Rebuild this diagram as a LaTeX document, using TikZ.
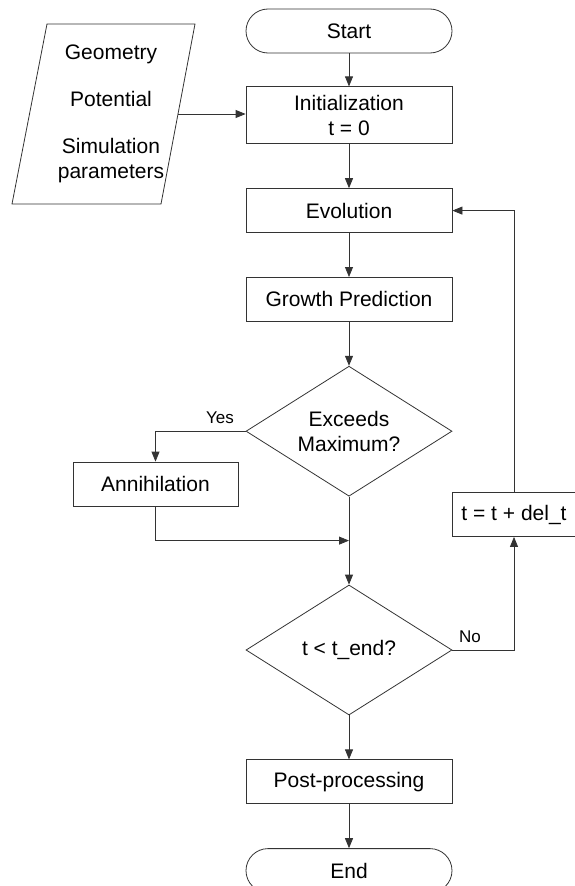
\documentclass[tikz,border=0pt]{standalone}
\usepackage{fontspec}
\setmainfont{Liberation Sans}
\usetikzlibrary{arrows.meta,calc,positioning,shapes.geometric}
\tikzstyle{block} = [rectangle, draw=black!80, minimum width=206pt,
    minimum height=44pt, text centered, inner sep=2pt]
\tikzstyle{terminal} = [block, rounded corners=22pt]
\tikzstyle{decision} = [diamond, draw=black!80, minimum width=206pt,
    minimum height=130pt, aspect=1.6, inner sep=0pt, align=center]
\tikzstyle{io} = [rectangle, minimum width=148pt, minimum height=180pt,
    align=center]
\tikzstyle{flow} = [->, draw=black!80]
\tikzstyle{answer} = [font=\fontsize{17}{20}\selectfont]

\begin{document}
\begin{tikzpicture}[x=1pt,y=-1pt,>={Triangle[length=10pt,width=8pt]},
                    line width=0.8pt,node distance=44pt,
                    font=\fontsize{21}{25}\selectfont]
  \useasboundingbox (0,0) rectangle (575,886);

  \node[terminal] (start) at (349,31) {Start};
  \node[block, minimum height=57pt, align=center] (init) [below=33pt of start]
       {Initialization\\t = 0};
  \node[block]    (evo)    [below=of init]   {Evolution};
  \node[block]    (growth) [below=of evo]    {Growth Prediction};
  \node[decision] (exceeds) [below=of growth] {Exceeds\\Maximum?};
  \node[decision] (check)  [below=88pt of exceeds] {t < t\_end?};
  \node[block]    (post)   [below=of check]  {Post-processing};
  \node[terminal] (end)    [below=of post]   {End};

  % input data (parallelogram)
  \node[io] (input) at (111,114)
       {Geometry\\[22pt]Potential\\[22pt]Simulation\\parameters};
  \draw[draw=black!80] ($(input)+(-64,-90)$) -- ($(input)+(84,-90)$)
       -- ($(input)+(50,90)$) -- ($(input)+(-99,90)$) -- cycle;
  \coordinate (inputout) at ($(input)+(67,0)$);

  \node[block, minimum width=165pt] (annih) at (155.5,484) {Annihilation};
  \node[block, minimum width=124pt] (delta) at (514,514.5) {t = t + del\_t};

  \coordinate (merge) at ($(exceeds.south)!0.5!(check.north)$);

  \draw[flow] (start) -- (init);
  \draw[flow] (inputout) -- (inputout -| init.west);
  \draw[flow] (init) -- (evo);
  \draw[flow] (evo) -- (growth);
  \draw[flow] (growth) -- (exceeds);
  \draw[flow] (exceeds.west)
       node[answer, above left, xshift=-8pt, yshift=4pt] {Yes} -| (annih.north);
  \draw[flow] (annih.south) |- (merge);
  \draw[flow] (exceeds.south) -- (check.north);
  \draw[flow] (check.east)
       node[answer, above right, xshift=3pt, yshift=4pt] {No} -| (delta.south);
  \draw[flow] (delta.north) |- (evo.east);
  \draw[flow] (check.south) -- (post);
  \draw[flow] (post) -- (end);
\end{tikzpicture}
\end{document}
